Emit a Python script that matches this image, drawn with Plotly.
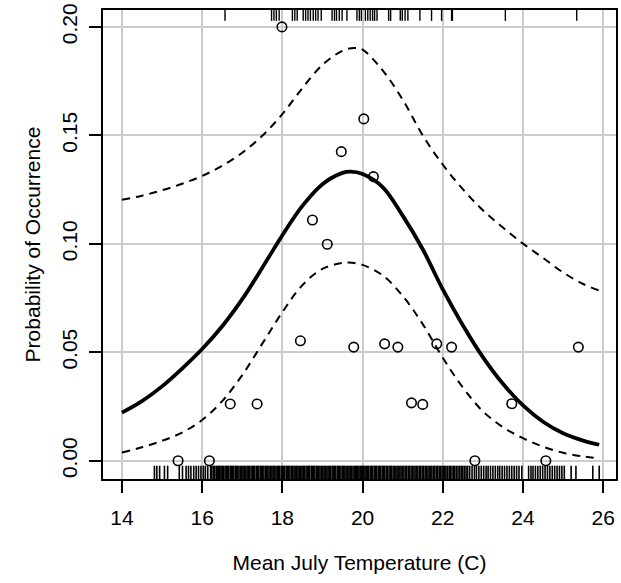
import plotly.graph_objects as go

# ---- observed proportions (points) ----
obs_temp = [15.40, 16.18, 16.70, 17.37, 17.99, 18.45, 18.75, 19.12, 19.47, 19.78, 20.03,
            20.27, 20.55, 20.88, 21.22, 21.50, 21.85, 22.22, 22.80, 23.72, 24.57, 25.38]
obs_prob = [0.000, 0.000, 0.0262, 0.0262, 0.200, 0.0553, 0.111, 0.0998, 0.1425, 0.0524, 0.1576,
            0.131, 0.0539, 0.0524, 0.0267, 0.0260, 0.0539, 0.0524, 0.000, 0.0263, 0.000, 0.0524]

# ---- fitted curve ----
fit_temp = [14.0, 14.5, 15.0, 15.5, 16.0, 16.5, 17.0, 17.5, 18.0, 18.5, 19.0, 19.5, 19.7, 20.0,
            20.5, 21.0, 21.5, 22.0, 22.5, 23.0, 23.5, 24.0, 24.5, 25.0, 25.5, 25.9]
fit_prob = [0.0222, 0.0275, 0.0343, 0.0425, 0.0515, 0.0620, 0.0745, 0.0890, 0.1040, 0.1175, 0.1275,
            0.1327, 0.1333, 0.1322, 0.1262, 0.1130, 0.0975, 0.0790, 0.0625, 0.0478, 0.0355, 0.0255,
            0.0180, 0.0127, 0.0093, 0.0074]

# ---- lower confidence band ----
low_temp = [14.0, 14.5, 15.0, 15.5, 16.0, 16.5, 17.0, 17.5, 18.0, 18.5, 19.0, 19.5, 19.65, 20.0,
            20.5, 21.0, 21.5, 22.0, 22.5, 23.0, 23.5, 24.0, 24.5, 25.0, 25.5, 25.9]
low_prob = [0.0038, 0.0062, 0.0092, 0.0130, 0.0188, 0.0275, 0.0395, 0.0540, 0.0685, 0.0810, 0.0885,
            0.0912, 0.0914, 0.0903, 0.0855, 0.0760, 0.0630, 0.0475, 0.0338, 0.0228, 0.0155, 0.0104,
            0.0065, 0.0037, 0.0020, 0.0011]

# ---- upper confidence band ----
up_temp = [14.0, 14.5, 15.0, 15.5, 16.0, 16.5, 17.0, 17.5, 18.0, 18.5, 19.0, 19.5, 19.8, 20.0,
           20.5, 21.0, 21.5, 22.0, 22.5, 23.0, 23.5, 24.0, 24.5, 25.0, 25.5, 25.9]
up_prob = [0.1203, 0.1222, 0.1247, 0.1277, 0.1313, 0.1360, 0.1420, 0.1498, 0.1598, 0.1718, 0.1825,
           0.1890, 0.1903, 0.1895, 0.1800, 0.1665, 0.1500, 0.1365, 0.1252, 0.1155, 0.1075, 0.1001,
           0.0935, 0.0868, 0.0815, 0.0785]

# ---- rug: presences (top) ----
presence_temp = [16.57, 17.73, 17.79, 17.85, 17.92, 18.25, 18.31, 18.37, 18.52, 18.58, 18.64, 18.70,
                 18.77, 18.83, 18.89, 18.97, 19.24, 19.30, 19.35, 19.42, 19.49, 19.61, 19.86, 19.92,
                 19.97, 20.07, 20.13, 20.19, 20.25, 20.30, 20.36, 20.65, 20.70, 20.94, 20.99, 21.06,
                 21.13, 21.43, 21.72, 21.97, 22.22, 22.24, 23.56, 25.34]

# ---- rug: absences (bottom) ----
absence_temp = [
    14.81, 14.87, 14.94, 15.06, 15.14, 15.43, 15.51, 15.60, 15.66, 15.72, 15.79, 15.85, 15.91,
    15.97, 16.03, 16.08, 16.14,
    16.21, 16.24, 16.28, 16.31, 16.35, 16.38, 16.41, 16.44, 16.47, 16.50, 16.53, 16.57, 16.60,
    16.63, 16.66, 16.70, 16.73, 16.76, 16.79, 16.83, 16.86, 16.89, 16.92, 16.96, 16.99,
    17.02, 17.05, 17.09, 17.12, 17.15, 17.18, 17.22, 17.25, 17.28, 17.31, 17.35, 17.38, 17.41,
    17.45, 17.48, 17.51, 17.54, 17.58, 17.61, 17.64, 17.67, 17.71, 17.74, 17.77, 17.80, 17.84,
    17.87, 17.90, 17.93, 17.97,
    18.00, 18.03, 18.06, 18.10, 18.13, 18.16, 18.19, 18.23, 18.26, 18.29, 18.32, 18.36, 18.39,
    18.42, 18.46, 18.49, 18.52, 18.55, 18.59, 18.62, 18.65, 18.68, 18.72, 18.75, 18.78, 18.81,
    18.85, 18.88, 18.91, 18.94, 18.98,
    19.01, 19.04, 19.07, 19.11, 19.14, 19.17, 19.20, 19.24, 19.27, 19.30, 19.33, 19.37, 19.40,
    19.43, 19.46, 19.50, 19.53, 19.56, 19.59, 19.63, 19.66, 19.69, 19.72, 19.76, 19.79, 19.82,
    19.85, 19.88, 19.91, 19.94, 19.97,
    20.00, 20.03, 20.06, 20.09, 20.12, 20.15, 20.19, 20.22, 20.25, 20.29, 20.32, 20.35, 20.39,
    20.42, 20.45, 20.49, 20.52, 20.55, 20.59, 20.62, 20.66, 20.69, 20.72, 20.76, 20.79, 20.83,
    20.86, 20.89, 20.93, 20.96,
    21.00, 21.03, 21.07, 21.10, 21.14, 21.17, 21.21, 21.24, 21.28, 21.31, 21.35, 21.38, 21.42,
    21.45, 21.49, 21.52, 21.56, 21.59, 21.63, 21.66, 21.70, 21.73, 21.77, 21.80, 21.84, 21.87,
    21.91, 21.94, 21.98,
    22.01, 22.05, 22.08, 22.12, 22.16, 22.19, 22.23, 22.27, 22.30, 22.34, 22.38, 22.42, 22.46,
    22.50, 22.54, 22.58, 22.62,
    22.67, 22.73, 22.79, 22.84, 22.90, 22.96, 23.02, 23.08, 23.13, 23.19, 23.25, 23.31, 23.37,
    23.42, 23.48, 23.54, 23.60, 23.66, 23.72, 23.78, 23.84, 23.90, 23.97,
    24.14, 24.20, 24.25, 24.31, 24.37, 24.43, 24.49, 24.55, 24.61, 24.67, 24.73, 24.79, 24.85,
    24.91, 24.97, 25.03,
    25.20, 25.32, 25.74, 25.90,
]

x_ticks = [14, 16, 18, 20, 22, 24, 26]
y_ticks = [0.00, 0.05, 0.10, 0.15, 0.20]
y_tick_labels = ["0.00", "0.05", "0.10", "0.15", "0.20"]

x_title = "Mean July Temperature (C)"
y_title = "Probability of Occurrence"

FONT = "Liberation Sans, Arial, Helvetica, sans-serif"
X_RANGE = [13.528, 26.319]
Y_RANGE = [-0.0084, 0.2078]
RUG_BOTTOM_Y = -0.0058
RUG_TOP_Y = 0.2057

fig = go.Figure()

fig.add_trace(go.Scatter(
    x=absence_temp, y=[RUG_BOTTOM_Y] * len(absence_temp), mode="markers",
    marker=dict(symbol="line-ns", size=11, color="black", line=dict(width=1.6, color="black")),
    hoverinfo="skip"))
fig.add_trace(go.Scatter(
    x=presence_temp, y=[RUG_TOP_Y] * len(presence_temp), mode="markers",
    marker=dict(symbol="line-ns", size=9, color="black", line=dict(width=1.4, color="black")),
    hoverinfo="skip"))

fig.add_trace(go.Scatter(x=up_temp, y=up_prob, mode="lines",
                         line=dict(color="black", width=2, dash="8px,6px", shape="spline", smoothing=1.0)))
fig.add_trace(go.Scatter(x=low_temp, y=low_prob, mode="lines",
                         line=dict(color="black", width=2, dash="8px,6px", shape="spline", smoothing=1.0)))
fig.add_trace(go.Scatter(x=fit_temp, y=fit_prob, mode="lines",
                         line=dict(color="black", width=3.8, shape="spline", smoothing=1.0)))

fig.add_trace(go.Scatter(x=obs_temp, y=obs_prob, mode="markers",
                         marker=dict(symbol="circle-open", size=9.5, color="black",
                                     line=dict(width=1.6, color="black"))))

axis_common = dict(
    showline=True, linecolor="black", linewidth=1.5, mirror=True,
    showgrid=True, gridcolor="#cccccc", gridwidth=2, zeroline=False,
    ticks="outside", ticklen=12, tickwidth=1.5, tickcolor="black",
    tickfont=dict(family=FONT, size=21, color="black"),
)

fig.update_layout(
    width=621, height=583,
    margin=dict(l=103, r=3, t=9, b=104),
    paper_bgcolor="white", plot_bgcolor="white",
    showlegend=False,
    font=dict(family=FONT, size=21, color="black"),
    xaxis=dict(range=X_RANGE, tickvals=x_ticks, ticktext=[str(v) for v in x_ticks],
               ticklabelstandoff=7,
               title=dict(text=x_title, font=dict(family=FONT, size=21, color="black"), standoff=27),
               **axis_common),
    yaxis=dict(range=Y_RANGE, tickvals=y_ticks, ticktext=y_tick_labels, tickangle=-90,
               ticklabelstandoff=4,
               title=dict(text=y_title, font=dict(family=FONT, size=21, color="black"), standoff=11),
               **axis_common),
)

fig.write_html("out.html")
